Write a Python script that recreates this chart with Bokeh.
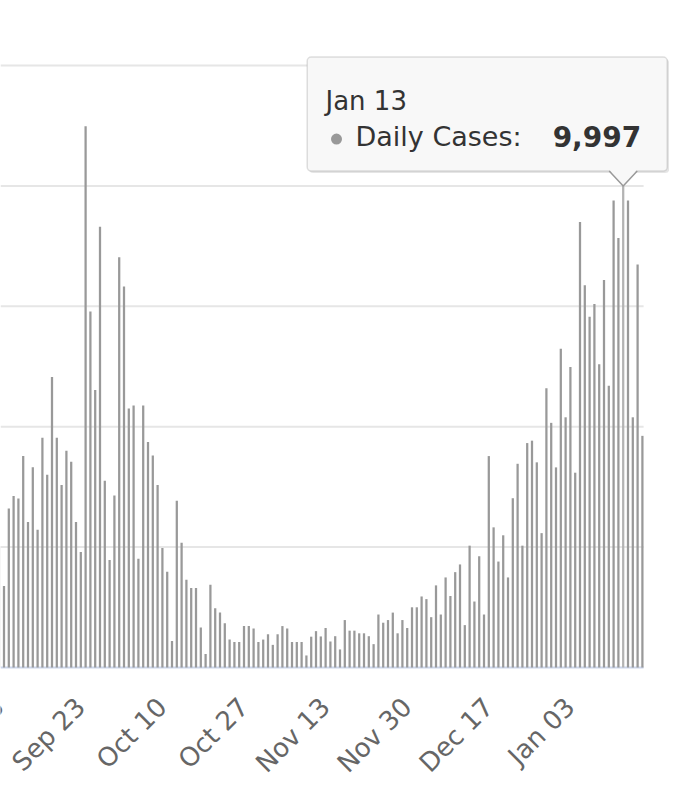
import math
import pandas as pd
from bokeh.plotting import figure
from bokeh.models import Range1d, BoxAnnotation
from bokeh.core.properties import value
from bokeh.embed import file_html
from bokeh.resources import INLINE

# ---------------- data ----------------
start_date = "2020-09-05"
cases = [
    2520, 1690, 3300, 3560, 3510, 4390, 3020, 4160, 2860, 4770,
    4000, 6030, 4770, 3790, 4500, 4270, 3020, 2400, 11240, 7390,
    5760, 9150, 3880, 2230, 3570, 8520, 7910, 5380, 5440, 2260,
    5440, 4680, 4400, 3790, 2480, 1990, 550, 3460, 2590, 1820,
    1650, 1650, 830, 280, 1720, 1230, 1140, 920, 580, 530,
    530, 860, 860, 810, 530, 580, 690, 470, 690, 860,
    810, 530, 530, 530, 250, 640, 755, 645, 820, 540,
    650, 375, 985, 765, 765, 710, 710, 650, 485, 1100,
    930, 985, 1140, 710, 985, 820, 1250, 1250, 1475, 1420,
    1045, 1705, 1100, 1870, 1485, 1980, 2140, 880, 2530, 1370,
    2310, 1100, 4390, 2910, 2200, 2745, 1870, 3515, 4230, 2530,
    4660, 4710, 4260, 2790, 5800, 5080, 4155, 6620, 5195, 6240,
    4045, 9250, 7935, 7285, 7550, 6295, 8045, 5850, 9695, 8920,
    9997, 9695, 5195, 8370, 4810,
]
tick_dates = ["2020-09-06", "2020-09-23", "2020-10-10", "2020-10-27",
              "2020-11-13", "2020-11-30", "2020-12-17", "2021-01-03"]
tick_labels = ["Sep 06", "Sep 23", "Oct 10", "Oct 27",
               "Nov 13", "Nov 30", "Dec 17", "Jan 03"]
grid_values = [2500, 5000, 7500, 10000, 12500]
hover_date = "2021-01-13"
hover_label = "Jan 13"
series_name = "Daily Cases"

# ---------------- derived ----------------
dates = pd.date_range(start_date, periods=len(cases), freq="D")
idx = list(range(len(cases)))
tick_pos = [(pd.Timestamp(d) - dates[0]).days for d in tick_dates]
hover_i = (pd.Timestamp(hover_date) - dates[0]).days
hover_v = cases[hover_i]

# ---------------- layout constants ----------------
W, H = 669, 790
ZERO_Y = 667                 # page y of value 0
PX_DAY = 4.8
PX_CASE = 602 / 12500
X0 = 0.27

x_range = Range1d(X0, X0 + W / PX_DAY)
y_range = Range1d(-(H - ZERO_Y) / PX_CASE, ZERO_Y / PX_CASE)

p = figure(width=W, height=H, x_range=x_range, y_range=y_range,
           output_backend="svg", toolbar_location=None, tools="",
           x_axis_location=None, y_axis_location=None,
           min_border_left=0, min_border_right=0,
           min_border_top=0, min_border_bottom=0)
p.outline_line_color = None
p.xgrid.visible = False
p.ygrid.visible = False
p.background_fill_color = "white"
p.border_fill_color = "white"

x_end_line = idx[-1] + 0.25

# gridlines
p.segment(x0=[X0] * len(grid_values), x1=[x_end_line] * len(grid_values),
          y0=grid_values, y1=grid_values, line_color="#e6e6e6", line_width=2)
# baseline (axis line)
p.segment(x0=[X0], x1=[x_end_line], y0=[0], y1=[0],
          line_color="#ccd6eb", line_width=2)

colors = ["#999999"] * len(cases)
colors[hover_i] = "#b3b3b3"
p.vbar(x=idx, top=cases, bottom=0, width=0.47, fill_color=colors,
       line_color=None)

# x axis labels (rotated, anchored at their end like the original)
lab_dx = -5 / PX_DAY
lab_y = -(702 - ZERO_Y) / PX_CASE
p.text(x=[t + lab_dx for t in tick_pos], y=[lab_y] * len(tick_pos),
       text=tick_labels, angle=math.pi / 4,
       text_font=value("DejaVu Sans"), text_font_size="26px",
       text_color="#666666", text_align="right", text_baseline="alphabetic")

# ---------------- tooltip ----------------
def fx(dx):
    return hover_i + dx / PX_DAY

def fy(up):
    return hover_v + up / PX_CASE

box_l, box_r, box_t, box_b = -316, 44, 129, 15
shadow = BoxAnnotation(left=fx(box_l + 2), right=fx(box_r + 2),
                       top=fy(box_t - 2), bottom=fy(box_b - 2),
                       fill_color="#000000", fill_alpha=0.10,
                       line_color=None, border_radius=4)
p.add_layout(shadow)
box = BoxAnnotation(left=fx(box_l), right=fx(box_r), top=fy(box_t),
                    bottom=fy(box_b), fill_color="#f8f8f8", fill_alpha=1.0,
                    line_color="#999999", line_width=1.5, border_radius=4)
p.add_layout(box)

half = 14
p.patch(x=[fx(-half), fx(0), fx(half)], y=[fy(box_b + 1.5), hover_v, fy(box_b + 1.5)],
        fill_color="#f8f8f8", line_color=None, level="overlay")
p.line(x=[fx(-half), fx(0), fx(half)], y=[fy(box_b), hover_v, fy(box_b)],
       line_color="#999999", line_width=1.5, level="overlay")

p.text(x=[fx(-297.7)], y=[fy(84.6)], text=[hover_label],
       text_font=value("DejaVu Sans"), text_font_size="26px",
       text_color="#333333", text_baseline="alphabetic", text_align="left",
       level="overlay")
p.scatter(x=[fx(-286.7)], y=[fy(47)], size=11, marker="circle",
          fill_color="#999999", line_color=None, level="overlay")
p.text(x=[fx(-267.7)], y=[fy(50)], text=[series_name + ": "],
       text_font=value("DejaVu Sans"), text_font_size="27px",
       text_color="#333333", text_baseline="alphabetic", text_align="left",
       level="overlay")
p.text(x=[fx(18)], y=[fy(50)], text=[f"{hover_v:,}"],
       text_font=value("DejaVu Sans"), text_font_size="28px",
       text_font_style="bold", text_color="#333333",
       text_baseline="alphabetic", text_align="right", level="overlay")

open("out.html", "w").write(file_html(p, INLINE))
